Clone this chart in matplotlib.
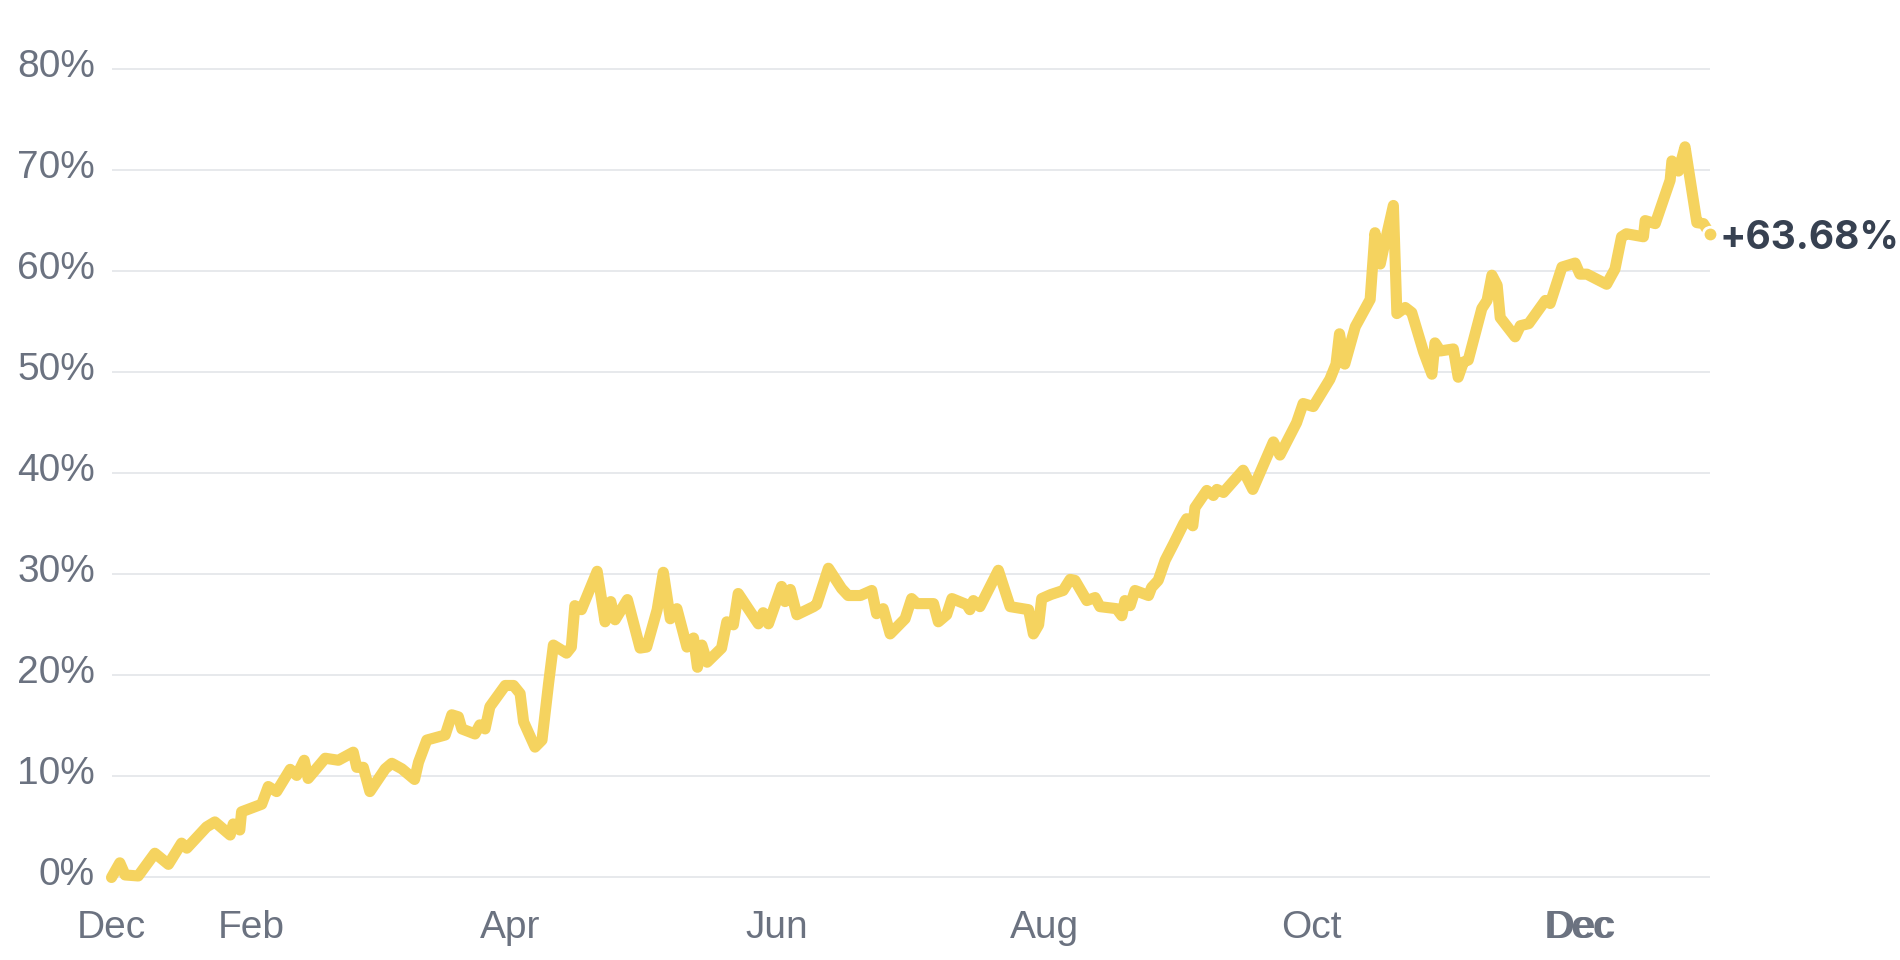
import datetime as dt
import matplotlib
matplotlib.use("Agg")
import matplotlib.pyplot as plt
import matplotlib.transforms as mtransforms

# cumulative return (%); x = days after the start date
start = dt.datetime(2022, 12, 31)
days = [0, 1.9, 3.1, 6.1, 9.9, 13.0, 16.0, 17.2, 21.7, 23.6, 27.1, 27.8, 29.3, 29.7,
        34.3, 35.8, 37.7, 40.8, 42.3, 44.0, 44.9, 48.8, 51.8, 55.2, 56.0, 57.5, 59.0,
        62.5, 64.0, 66.3, 69.2, 70.1, 72.0, 76.2, 77.7, 79.2, 80.0, 83.0, 84.1, 85.3,
        86.4, 89.9, 91.8, 93.3, 94.1, 96.7, 98.3, 99.8, 100.9, 103.9, 105.0, 105.8,
        107.3, 110.9, 112.7, 114.0, 115.0, 117.8, 120.7, 122.2, 124.6, 126.0, 127.6,
        129.1, 131.4, 132.9, 133.8, 134.8, 136.0, 139.3, 140.5, 142.0, 143.1, 147.7,
        148.8, 150.0, 153.0, 153.8, 155.0, 156.5, 160.3, 161.0, 163.7, 166.7, 168.2,
        171.0, 173.6, 174.7, 176.2, 177.8, 181.2, 182.7, 183.9, 187.7, 188.8, 190.7,
        191.9, 195.3, 196.0, 196.8, 198.3, 202.5, 205.2, 209.4, 210.5, 211.7, 212.4,
        214.5, 217.3, 218.9, 220.0, 222.7, 224.6, 225.7, 229.5, 230.7, 231.4, 232.6,
        233.7, 236.8, 237.5, 239.0, 240.6, 242.5, 244.8, 245.5, 246.9, 247.4, 250.1,
        251.6, 252.4, 253.9, 258.4, 260.6, 261.9, 265.3, 266.8, 270.6, 272.1, 274.4,
        278.2, 279.6, 280.4, 281.6, 284.0, 287.4, 288.5, 289.7, 290.4, 292.7, 293.5,
        295.4, 296.9, 299.6, 301.5, 302.2, 303.4, 306.4, 307.5, 308.7, 309.8, 312.9,
        314.1, 315.2, 316.4, 317.1, 320.5, 321.7, 323.6, 327.4, 328.5, 331.2, 334.2,
        335.3, 336.9, 341.4, 343.3, 344.8, 345.9, 349.8, 350.2, 352.5, 355.9, 356.3,
        357.8, 359.3, 362.0, 363.5, 365.0]
values = [0.0, 1.45, 0.25, 0.15, 2.4, 1.3, 3.4, 2.9, 5.0, 5.5, 4.2, 5.3, 4.7, 6.5,
          7.25, 9.0, 8.5, 10.7, 10.1, 11.6, 9.8, 11.8, 11.6, 12.4, 10.9, 10.9, 8.5,
          10.75, 11.3, 10.75, 9.7, 11.4, 13.6, 14.1, 16.1, 15.9, 14.7, 14.2, 15.1, 14.7,
          16.9, 19.0, 19.0, 18.2, 15.4, 12.9, 13.6, 19.2, 23.0, 22.2, 22.8, 26.9,
          26.5, 30.3, 25.3, 27.3, 25.5, 27.5, 22.7, 22.8, 26.5, 30.2, 25.6,
          26.6, 22.8, 23.7, 20.8, 23.0, 21.3, 22.7, 25.3, 25.0, 28.1, 25.1,
          26.2, 25.1, 28.8, 27.3, 28.5, 26.0, 26.8, 27.0, 30.6, 28.6, 27.9,
          27.9, 28.4, 26.1, 26.6, 24.1, 25.6, 27.6, 27.1, 27.1, 25.3, 26.0,
          27.6, 27.0, 26.5, 27.4, 26.8, 30.4, 26.8, 26.5, 24.1, 25.0, 27.6,
          28.0, 28.4, 29.5, 29.4, 27.4, 27.7, 26.8, 26.6, 25.9, 27.4, 26.9,
          28.4, 27.9, 28.7, 29.4, 31.4, 33.0, 35.0, 35.5, 34.8, 36.6, 38.3,
          37.8, 38.4, 38.1, 40.3, 38.4, 39.7, 43.1, 41.8, 45.0, 46.9, 46.6,
          49.3, 50.8, 53.8, 50.8, 54.5, 57.2, 63.8, 60.7, 62.1, 66.5, 55.8,
          56.4, 55.9, 52.0, 49.8, 52.9, 52.1, 52.3, 49.5, 51.0, 51.2, 56.3,
          57.1, 59.6, 58.6, 55.4, 53.5, 54.6, 54.8, 57.1, 56.8, 60.4, 60.8,
          59.7, 59.7, 58.7, 60.2, 63.4, 63.7, 63.4, 65.0, 64.7, 69.0, 70.9,
          69.9, 72.3, 64.8, 64.7, 63.68]

tick_days = [0, 32, 91, 152, 213, 274, 335, 335.6]
tick_labels = ["Dec", "Feb", "Apr", "Jun", "Aug", "Oct", "Dec", "Dec"]
y_ticks = [0, 10, 20, 30, 40, 50, 60, 70, 80]

line_color = "#F5D35F"
grid_color = "#E5E7EB"
label_color = "#6B7280"
end_color = "#374151"

dates = [start + dt.timedelta(days=d) for d in days]
tick_dates = [start + dt.timedelta(days=d) for d in tick_days]

fig = plt.figure(figsize=(19, 9.6), dpi=100)
W, H = 1900, 960
left, right = 111.5, 1710
top_px, bot_px = 48.8, 897.7
ax = fig.add_axes([left / W, 1 - bot_px / H, (right - left) / W, (bot_px - top_px) / H])

ax.plot(dates, values, color=line_color, lw=8, solid_capstyle="round",
        solid_joinstyle="round", clip_on=False, zorder=3)
ax.plot(dates[-1], values[-1], "o", ms=10.5, color=line_color, mec="white", mew=2,
        clip_on=False, zorder=4)
ax.annotate(f"+{values[-1]:.2f}%", (dates[-1], values[-1]), xytext=(7, -3),
            textcoords="offset points", ha="left", va="center", fontsize=28,
            fontweight="bold", color=end_color, family="Inter", annotation_clip=False)

ax.set_xlim(dates[0], dates[-1])
ax.set_ylim(-2, 82)
ax.set_yticks(y_ticks)
ax.set_yticklabels([f"{v}%" for v in y_ticks])
ax.set_xticks(tick_dates)
ax.set_xticklabels(tick_labels)
ax.grid(axis="y", color=grid_color, lw=1.3)
ax.grid(axis="x", visible=False)
ax.set_axisbelow(True)
for s in ax.spines.values():
    s.set_visible(False)
ax.tick_params(length=0, labelsize=28, labelcolor=label_color)
ax.tick_params(axis="y", pad=12)
ax.tick_params(axis="x", pad=8.5)

shift = mtransforms.ScaledTranslation(0, -8 / 100, fig.dpi_scale_trans)
for lab in ax.get_yticklabels():
    lab.set_family("Liberation Sans")
    lab.set_va("baseline")
    lab.set_transform(lab.get_transform() + shift)
for lab in ax.get_xticklabels():
    lab.set_family("Liberation Sans")

fig.savefig("out.png", dpi=100, facecolor="white")
